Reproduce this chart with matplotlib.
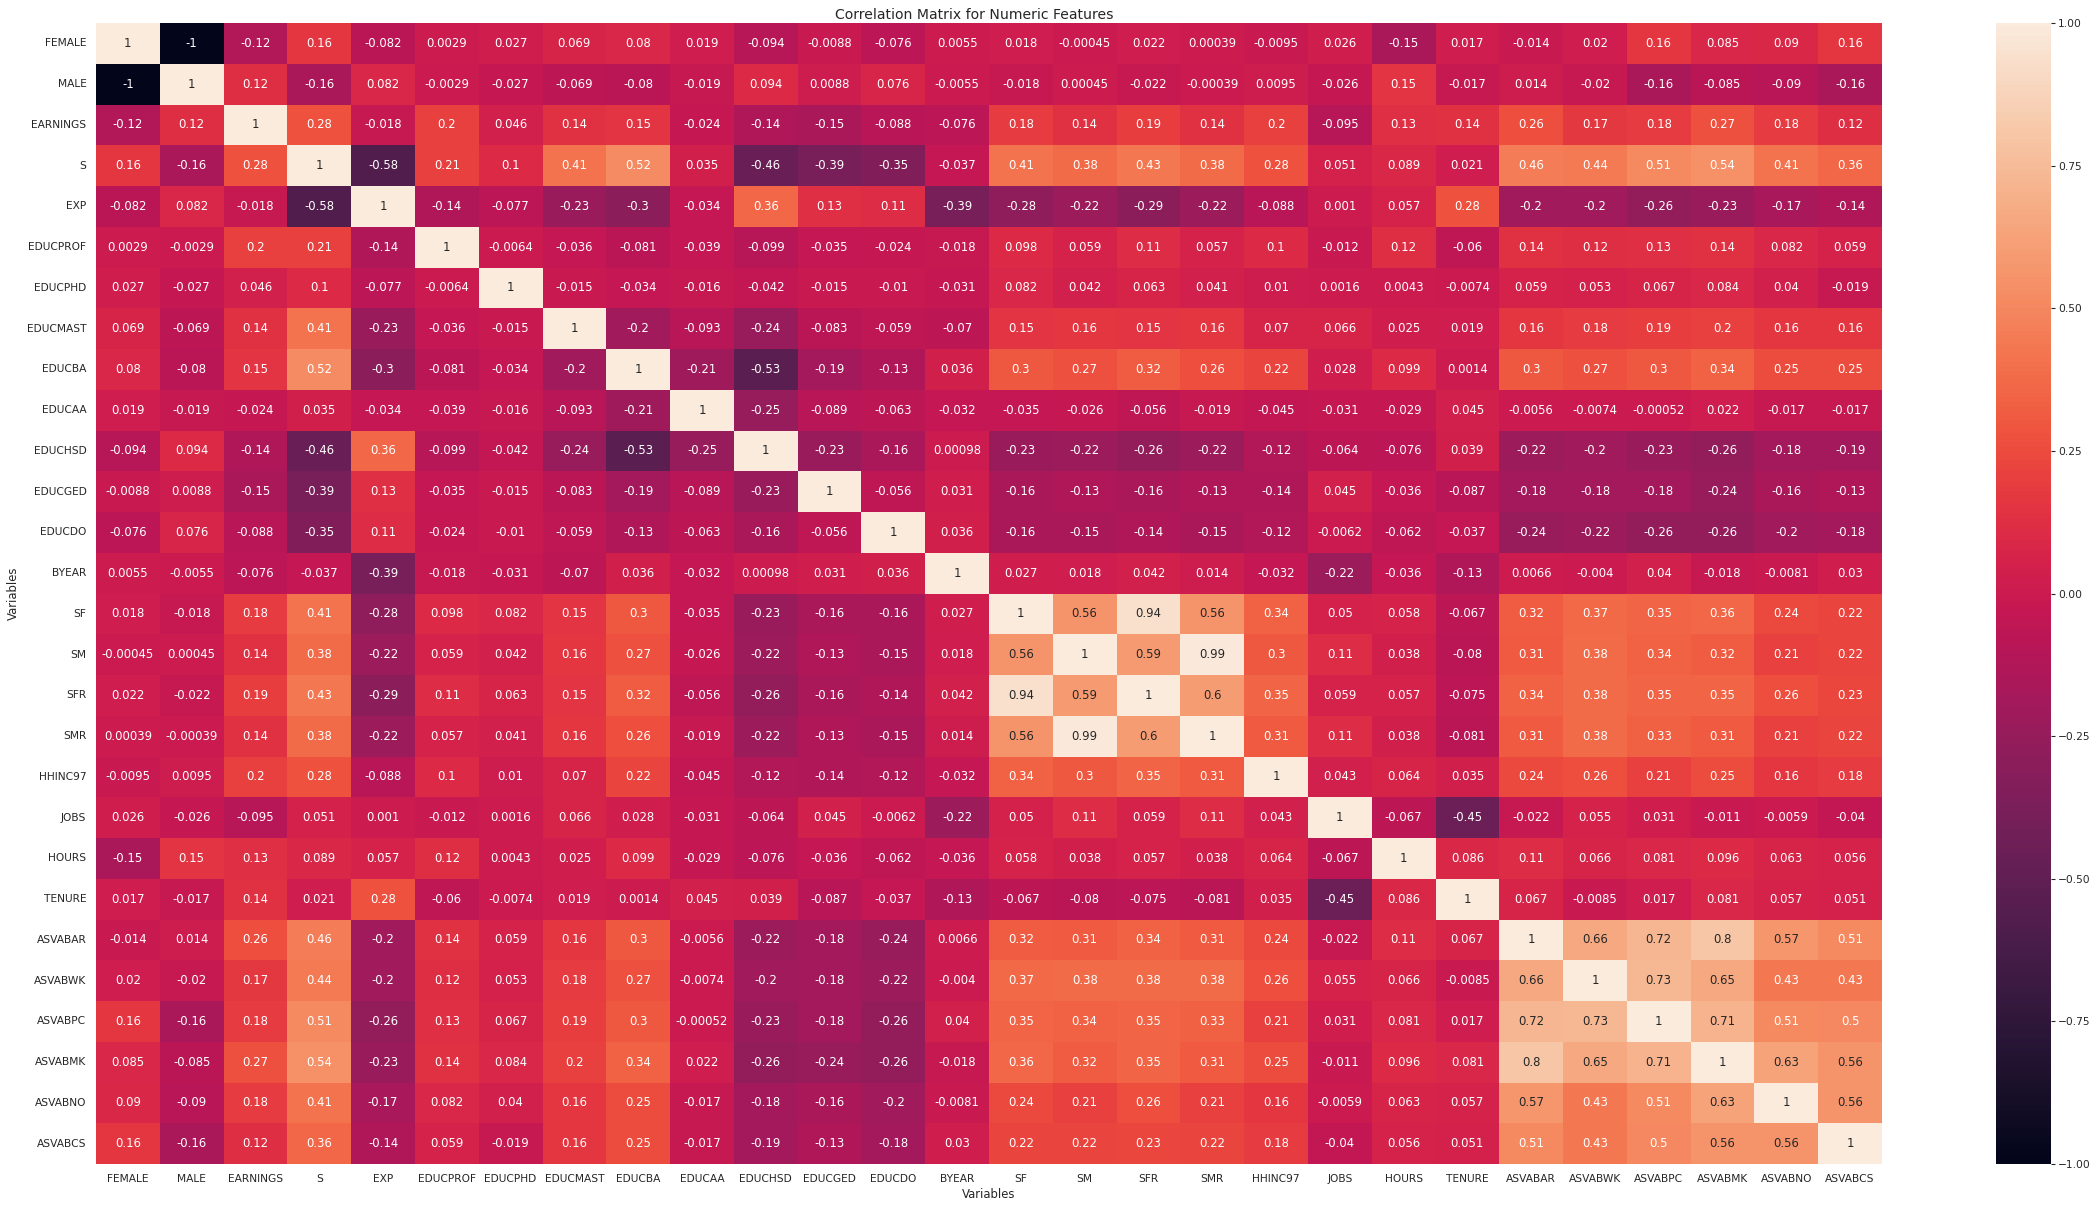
import numpy as np
import pandas as pd
import matplotlib
matplotlib.use("Agg")
import matplotlib.pyplot as plt
import seaborn as sns

variables = ["FEMALE", "MALE", "EARNINGS", "S", "EXP", "EDUCPROF", "EDUCPHD", "EDUCMAST",
             "EDUCBA", "EDUCAA", "EDUCHSD", "EDUCGED", "EDUCDO", "BYEAR", "SF", "SM", "SFR",
             "SMR", "HHINC97", "JOBS", "HOURS", "TENURE", "ASVABAR", "ASVABWK", "ASVABPC",
             "ASVABMK", "ASVABNO", "ASVABCS"]

r_FEMALE = [1, -1, -0.12, 0.16, -0.082, 0.0029, 0.027, 0.069, 0.08, 0.019, -0.094, -0.0088, -0.076, 0.0055, 0.018, -0.00045, 0.022, 0.00039, -0.0095, 0.026, -0.15, 0.017, -0.014, 0.02, 0.16, 0.085, 0.09, 0.16]
r_MALE = [-1, 1, 0.12, -0.16, 0.082, -0.0029, -0.027, -0.069, -0.08, -0.019, 0.094, 0.0088, 0.076, -0.0055, -0.018, 0.00045, -0.022, -0.00039, 0.0095, -0.026, 0.15, -0.017, 0.014, -0.02, -0.16, -0.085, -0.09, -0.16]
r_EARNINGS = [-0.12, 0.12, 1, 0.28, -0.018, 0.2, 0.046, 0.14, 0.15, -0.024, -0.14, -0.15, -0.088, -0.076, 0.18, 0.14, 0.19, 0.14, 0.2, -0.095, 0.13, 0.14, 0.26, 0.17, 0.18, 0.27, 0.18, 0.12]
r_S = [0.16, -0.16, 0.28, 1, -0.58, 0.21, 0.1, 0.41, 0.52, 0.035, -0.46, -0.39, -0.35, -0.037, 0.41, 0.38, 0.43, 0.38, 0.28, 0.051, 0.089, 0.021, 0.46, 0.44, 0.51, 0.54, 0.41, 0.36]
r_EXP = [-0.082, 0.082, -0.018, -0.58, 1, -0.14, -0.077, -0.23, -0.3, -0.034, 0.36, 0.13, 0.11, -0.39, -0.28, -0.22, -0.29, -0.22, -0.088, 0.001, 0.057, 0.28, -0.2, -0.2, -0.26, -0.23, -0.17, -0.14]
r_EDUCPROF = [0.0029, -0.0029, 0.2, 0.21, -0.14, 1, -0.0064, -0.036, -0.081, -0.039, -0.099, -0.035, -0.024, -0.018, 0.098, 0.059, 0.11, 0.057, 0.1, -0.012, 0.12, -0.06, 0.14, 0.12, 0.13, 0.14, 0.082, 0.059]
r_EDUCPHD = [0.027, -0.027, 0.046, 0.1, -0.077, -0.0064, 1, -0.015, -0.034, -0.016, -0.042, -0.015, -0.01, -0.031, 0.082, 0.042, 0.063, 0.041, 0.01, 0.0016, 0.0043, -0.0074, 0.059, 0.053, 0.067, 0.084, 0.04, -0.019]
r_EDUCMAST = [0.069, -0.069, 0.14, 0.41, -0.23, -0.036, -0.015, 1, -0.2, -0.093, -0.24, -0.083, -0.059, -0.07, 0.15, 0.16, 0.15, 0.16, 0.07, 0.066, 0.025, 0.019, 0.16, 0.18, 0.19, 0.2, 0.16, 0.16]
r_EDUCBA = [0.08, -0.08, 0.15, 0.52, -0.3, -0.081, -0.034, -0.2, 1, -0.21, -0.53, -0.19, -0.13, 0.036, 0.3, 0.27, 0.32, 0.26, 0.22, 0.028, 0.099, 0.0014, 0.3, 0.27, 0.3, 0.34, 0.25, 0.25]
r_EDUCAA = [0.019, -0.019, -0.024, 0.035, -0.034, -0.039, -0.016, -0.093, -0.21, 1, -0.25, -0.089, -0.063, -0.032, -0.035, -0.026, -0.056, -0.019, -0.045, -0.031, -0.029, 0.045, -0.0056, -0.0074, -0.00052, 0.022, -0.017, -0.017]
r_EDUCHSD = [-0.094, 0.094, -0.14, -0.46, 0.36, -0.099, -0.042, -0.24, -0.53, -0.25, 1, -0.23, -0.16, 0.00098, -0.23, -0.22, -0.26, -0.22, -0.12, -0.064, -0.076, 0.039, -0.22, -0.2, -0.23, -0.26, -0.18, -0.19]
r_EDUCGED = [-0.0088, 0.0088, -0.15, -0.39, 0.13, -0.035, -0.015, -0.083, -0.19, -0.089, -0.23, 1, -0.056, 0.031, -0.16, -0.13, -0.16, -0.13, -0.14, 0.045, -0.036, -0.087, -0.18, -0.18, -0.18, -0.24, -0.16, -0.13]
r_EDUCDO = [-0.076, 0.076, -0.088, -0.35, 0.11, -0.024, -0.01, -0.059, -0.13, -0.063, -0.16, -0.056, 1, 0.036, -0.16, -0.15, -0.14, -0.15, -0.12, -0.0062, -0.062, -0.037, -0.24, -0.22, -0.26, -0.26, -0.2, -0.18]
r_BYEAR = [0.0055, -0.0055, -0.076, -0.037, -0.39, -0.018, -0.031, -0.07, 0.036, -0.032, 0.00098, 0.031, 0.036, 1, 0.027, 0.018, 0.042, 0.014, -0.032, -0.22, -0.036, -0.13, 0.0066, -0.004, 0.04, -0.018, -0.0081, 0.03]
r_SF = [0.018, -0.018, 0.18, 0.41, -0.28, 0.098, 0.082, 0.15, 0.3, -0.035, -0.23, -0.16, -0.16, 0.027, 1, 0.56, 0.94, 0.56, 0.34, 0.05, 0.058, -0.067, 0.32, 0.37, 0.35, 0.36, 0.24, 0.22]
r_SM = [-0.00045, 0.00045, 0.14, 0.38, -0.22, 0.059, 0.042, 0.16, 0.27, -0.026, -0.22, -0.13, -0.15, 0.018, 0.56, 1, 0.59, 0.99, 0.3, 0.11, 0.038, -0.08, 0.31, 0.38, 0.34, 0.32, 0.21, 0.22]
r_SFR = [0.022, -0.022, 0.19, 0.43, -0.29, 0.11, 0.063, 0.15, 0.32, -0.056, -0.26, -0.16, -0.14, 0.042, 0.94, 0.59, 1, 0.6, 0.35, 0.059, 0.057, -0.075, 0.34, 0.38, 0.35, 0.35, 0.26, 0.23]
r_SMR = [0.00039, -0.00039, 0.14, 0.38, -0.22, 0.057, 0.041, 0.16, 0.26, -0.019, -0.22, -0.13, -0.15, 0.014, 0.56, 0.99, 0.6, 1, 0.31, 0.11, 0.038, -0.081, 0.31, 0.38, 0.33, 0.31, 0.21, 0.22]
r_HHINC97 = [-0.0095, 0.0095, 0.2, 0.28, -0.088, 0.1, 0.01, 0.07, 0.22, -0.045, -0.12, -0.14, -0.12, -0.032, 0.34, 0.3, 0.35, 0.31, 1, 0.043, 0.064, 0.035, 0.24, 0.26, 0.21, 0.25, 0.16, 0.18]
r_JOBS = [0.026, -0.026, -0.095, 0.051, 0.001, -0.012, 0.0016, 0.066, 0.028, -0.031, -0.064, 0.045, -0.0062, -0.22, 0.05, 0.11, 0.059, 0.11, 0.043, 1, -0.067, -0.45, -0.022, 0.055, 0.031, -0.011, -0.0059, -0.04]
r_HOURS = [-0.15, 0.15, 0.13, 0.089, 0.057, 0.12, 0.0043, 0.025, 0.099, -0.029, -0.076, -0.036, -0.062, -0.036, 0.058, 0.038, 0.057, 0.038, 0.064, -0.067, 1, 0.086, 0.11, 0.066, 0.081, 0.096, 0.063, 0.056]
r_TENURE = [0.017, -0.017, 0.14, 0.021, 0.28, -0.06, -0.0074, 0.019, 0.0014, 0.045, 0.039, -0.087, -0.037, -0.13, -0.067, -0.08, -0.075, -0.081, 0.035, -0.45, 0.086, 1, 0.067, -0.0085, 0.017, 0.081, 0.057, 0.051]
r_ASVABAR = [-0.014, 0.014, 0.26, 0.46, -0.2, 0.14, 0.059, 0.16, 0.3, -0.0056, -0.22, -0.18, -0.24, 0.0066, 0.32, 0.31, 0.34, 0.31, 0.24, -0.022, 0.11, 0.067, 1, 0.66, 0.72, 0.8, 0.57, 0.51]
r_ASVABWK = [0.02, -0.02, 0.17, 0.44, -0.2, 0.12, 0.053, 0.18, 0.27, -0.0074, -0.2, -0.18, -0.22, -0.004, 0.37, 0.38, 0.38, 0.38, 0.26, 0.055, 0.066, -0.0085, 0.66, 1, 0.73, 0.65, 0.43, 0.43]
r_ASVABPC = [0.16, -0.16, 0.18, 0.51, -0.26, 0.13, 0.067, 0.19, 0.3, -0.00052, -0.23, -0.18, -0.26, 0.04, 0.35, 0.34, 0.35, 0.33, 0.21, 0.031, 0.081, 0.017, 0.72, 0.73, 1, 0.71, 0.51, 0.5]
r_ASVABMK = [0.085, -0.085, 0.27, 0.54, -0.23, 0.14, 0.084, 0.2, 0.34, 0.022, -0.26, -0.24, -0.26, -0.018, 0.36, 0.32, 0.35, 0.31, 0.25, -0.011, 0.096, 0.081, 0.8, 0.65, 0.71, 1, 0.63, 0.56]
r_ASVABNO = [0.09, -0.09, 0.18, 0.41, -0.17, 0.082, 0.04, 0.16, 0.25, -0.017, -0.18, -0.16, -0.2, -0.0081, 0.24, 0.21, 0.26, 0.21, 0.16, -0.0059, 0.063, 0.057, 0.57, 0.43, 0.51, 0.63, 1, 0.56]
r_ASVABCS = [0.16, -0.16, 0.12, 0.36, -0.14, 0.059, -0.019, 0.16, 0.25, -0.017, -0.19, -0.13, -0.18, 0.03, 0.22, 0.22, 0.23, 0.22, 0.18, -0.04, 0.056, 0.051, 0.51, 0.43, 0.5, 0.56, 0.56, 1]

rows = [r_FEMALE, r_MALE, r_EARNINGS, r_S, r_EXP, r_EDUCPROF, r_EDUCPHD, r_EDUCMAST,
        r_EDUCBA, r_EDUCAA, r_EDUCHSD, r_EDUCGED, r_EDUCDO, r_BYEAR, r_SF, r_SM, r_SFR,
        r_SMR, r_HHINC97, r_JOBS, r_HOURS, r_TENURE, r_ASVABAR, r_ASVABWK, r_ASVABPC,
        r_ASVABMK, r_ASVABNO, r_ASVABCS]

corr = pd.DataFrame(np.array(rows, dtype=float), index=variables, columns=variables)

cbar_ticks = [-1.0, -0.75, -0.5, -0.25, 0.0, 0.25, 0.5, 0.75, 1.0]

sns.set_theme(style="white")
plt.rcParams['font.family'] = ['DejaVu Sans']

W, H = 2100, 1208
fig = plt.figure(figsize=(W / 100, H / 100), dpi=100)
left, right, top, bottom = 96, 1882, 23, 1164
ax = fig.add_axes([left / W, 1 - bottom / H, (right - left) / W, (bottom - top) / H])
cax = fig.add_axes([1996 / W, 1 - bottom / H, 55 / W, (bottom - top) / H])

sns.heatmap(corr, annot=True, ax=ax, cbar_ax=cax, vmin=-1, vmax=1,
            annot_kws={"fontsize": 8.4})

ax.set_title("Correlation Matrix for Numeric Features", fontsize=10.1, color="#262626",
             pad=3, x=0.492)
ax.set_xlabel("Variables", fontsize=8.4, color="#262626", labelpad=3.2)
ax.set_ylabel("Variables", fontsize=8.4, color="#262626", labelpad=4.7)
ax.tick_params(axis="both", labelsize=7.7, colors="#262626", length=0, pad=6.9)
for lbl in ax.get_xticklabels():
    lbl.set_rotation(0)
for lbl in ax.get_yticklabels():
    lbl.set_rotation(0)

cax.tick_params(labelsize=7.7, colors="#262626", length=3, width=0.8, pad=2)
cax.set_yticks(cbar_ticks)
cax.set_yticklabels([f"{v:.2f}".replace("-", "\u2212") for v in cbar_ticks])

fig.savefig("out.png", dpi=100)
